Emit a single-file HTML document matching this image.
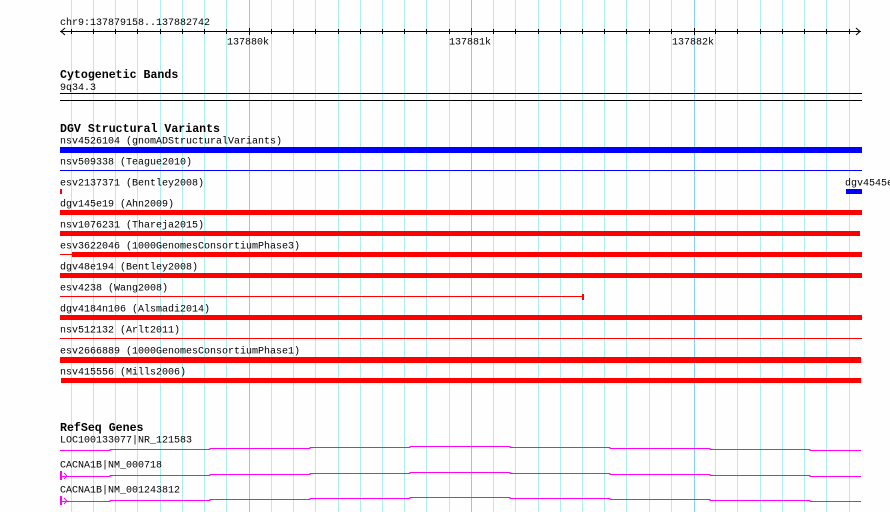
<!DOCTYPE html>
<html><head><meta charset="utf-8"><style>
html,body{margin:0;padding:0;background:#fdfefd;}
svg{display:block;}
text{font-family:"Liberation Mono",monospace;font-size:10px;fill:#000;}
.b{font-weight:bold;font-size:11.6px;}
</style></head><body>
<svg width="890" height="512" viewBox="0 0 890 512" xmlns="http://www.w3.org/2000/svg">
<rect width="890" height="512" fill="#fdfefd"/>
<g stroke="#aeeeee" stroke-width="1">
<line x1="71.5" y1="0" x2="71.5" y2="512"/><line x1="93.5" y1="0" x2="93.5" y2="512"/><line x1="115.5" y1="0" x2="115.5" y2="512"/><line x1="137.5" y1="0" x2="137.5" y2="512"/><line x1="160.5" y1="0" x2="160.5" y2="512"/><line x1="182.5" y1="0" x2="182.5" y2="512"/><line x1="204.5" y1="0" x2="204.5" y2="512"/><line x1="226.5" y1="0" x2="226.5" y2="512"/>
<line x1="271.5" y1="0" x2="271.5" y2="512"/><line x1="293.5" y1="0" x2="293.5" y2="512"/><line x1="315.5" y1="0" x2="315.5" y2="512"/><line x1="338.5" y1="0" x2="338.5" y2="512"/><line x1="360.5" y1="0" x2="360.5" y2="512"/><line x1="382.5" y1="0" x2="382.5" y2="512"/><line x1="404.5" y1="0" x2="404.5" y2="512"/><line x1="426.5" y1="0" x2="426.5" y2="512"/><line x1="449.5" y1="0" x2="449.5" y2="512"/>
<line x1="493.5" y1="0" x2="493.5" y2="512"/><line x1="515.5" y1="0" x2="515.5" y2="512"/><line x1="538.5" y1="0" x2="538.5" y2="512"/><line x1="560.5" y1="0" x2="560.5" y2="512"/><line x1="582.5" y1="0" x2="582.5" y2="512"/><line x1="604.5" y1="0" x2="604.5" y2="512"/><line x1="626.5" y1="0" x2="626.5" y2="512"/><line x1="649.5" y1="0" x2="649.5" y2="512"/><line x1="671.5" y1="0" x2="671.5" y2="512"/>
<line x1="715.5" y1="0" x2="715.5" y2="512"/><line x1="737.5" y1="0" x2="737.5" y2="512"/><line x1="760.5" y1="0" x2="760.5" y2="512"/><line x1="782.5" y1="0" x2="782.5" y2="512"/><line x1="804.5" y1="0" x2="804.5" y2="512"/><line x1="826.5" y1="0" x2="826.5" y2="512"/><line x1="849.5" y1="0" x2="849.5" y2="512"/>
</g>
<g stroke="#88ccee" stroke-width="1">
<line x1="249.5" y1="0" x2="249.5" y2="512"/><line x1="471.5" y1="0" x2="471.5" y2="512"/><line x1="694.5" y1="0" x2="694.5" y2="512"/>
</g>
<!-- ruler -->
<text x="60" y="25">chr9:137879158..137882742</text>
<line x1="60" y1="31.5" x2="861" y2="31.5" stroke="#000"/>
<polyline points="65,28 61,31.5 65,35" fill="none" stroke="#000"/>
<polyline points="856,28 860,31.5 856,35" fill="none" stroke="#000"/>
<g stroke="#000">
<line x1="71.5" y1="29" x2="71.5" y2="34"/><line x1="93.5" y1="29" x2="93.5" y2="34"/><line x1="115.5" y1="29" x2="115.5" y2="34"/><line x1="137.5" y1="29" x2="137.5" y2="34"/><line x1="160.5" y1="29" x2="160.5" y2="34"/><line x1="182.5" y1="29" x2="182.5" y2="34"/><line x1="204.5" y1="29" x2="204.5" y2="34"/><line x1="226.5" y1="29" x2="226.5" y2="34"/><line x1="249.5" y1="28" x2="249.5" y2="35"/>
<line x1="271.5" y1="29" x2="271.5" y2="34"/><line x1="293.5" y1="29" x2="293.5" y2="34"/><line x1="315.5" y1="29" x2="315.5" y2="34"/><line x1="338.5" y1="29" x2="338.5" y2="34"/><line x1="360.5" y1="29" x2="360.5" y2="34"/><line x1="382.5" y1="29" x2="382.5" y2="34"/><line x1="404.5" y1="29" x2="404.5" y2="34"/><line x1="426.5" y1="29" x2="426.5" y2="34"/><line x1="449.5" y1="29" x2="449.5" y2="34"/><line x1="471.5" y1="28" x2="471.5" y2="35"/>
<line x1="493.5" y1="29" x2="493.5" y2="34"/><line x1="515.5" y1="29" x2="515.5" y2="34"/><line x1="538.5" y1="29" x2="538.5" y2="34"/><line x1="560.5" y1="29" x2="560.5" y2="34"/><line x1="582.5" y1="29" x2="582.5" y2="34"/><line x1="604.5" y1="29" x2="604.5" y2="34"/><line x1="626.5" y1="29" x2="626.5" y2="34"/><line x1="649.5" y1="29" x2="649.5" y2="34"/><line x1="671.5" y1="29" x2="671.5" y2="34"/><line x1="694.5" y1="28" x2="694.5" y2="35"/>
<line x1="715.5" y1="29" x2="715.5" y2="34"/><line x1="737.5" y1="29" x2="737.5" y2="34"/><line x1="760.5" y1="29" x2="760.5" y2="34"/><line x1="782.5" y1="29" x2="782.5" y2="34"/><line x1="804.5" y1="29" x2="804.5" y2="34"/><line x1="826.5" y1="29" x2="826.5" y2="34"/><line x1="849.5" y1="29" x2="849.5" y2="34"/>
</g>
<text x="227" y="44.5">137880k</text>
<text x="449" y="44.5">137881k</text>
<text x="672" y="44.5">137882k</text>
<!-- cytobands -->
<text class="b" x="60" y="78">Cytogenetic Bands</text>
<text x="60" y="90">9q34.3</text>
<line x1="60" y1="93.5" x2="862" y2="93.5" stroke="#000"/>
<line x1="60" y1="100.5" x2="862" y2="100.5" stroke="#000"/>
<!-- DGV -->
<text class="b" x="60" y="132">DGV Structural Variants</text>
<text x="60" y="143.5">nsv4526104 (gnomADStructuralVariants)</text>
<rect x="60" y="147" width="802" height="6" fill="#0000ff"/>
<text x="60" y="164.5">nsv509338 (Teague2010)</text>
<rect x="60" y="170" width="802" height="1" fill="#0000ff"/>
<text x="60" y="185.5">esv2137371 (Bentley2008)</text>
<rect x="60" y="189" width="2" height="5" fill="#ff0000"/>
<text x="845" y="185.5">dgv4545e</text>
<rect x="846" y="189" width="16" height="5" fill="#0000ff"/>
<text x="60" y="206.5">dgv145e19 (Ahn2009)</text>
<rect x="60" y="210" width="802" height="5" fill="#ff0000"/>
<text x="60" y="227.5">nsv1076231 (Thareja2015)</text>
<rect x="60" y="231" width="800" height="5" fill="#ff0000"/>
<text x="60" y="248.5">esv3622046 (1000GenomesConsortiumPhase3)</text>
<rect x="60" y="254" width="12" height="1" fill="#ff0000"/>
<rect x="72" y="252" width="790" height="5" fill="#ff0000"/>
<text x="60" y="269.5">dgv48e194 (Bentley2008)</text>
<rect x="60" y="273" width="802" height="5" fill="#ff0000"/>
<text x="60" y="290.5">esv4238 (Wang2008)</text>
<rect x="60" y="296" width="523" height="1" fill="#ff0000"/>
<rect x="582" y="294" width="2" height="6" fill="#ff0000"/>
<text x="60" y="311.5">dgv4184n106 (Alsmadi2014)</text>
<rect x="60" y="315" width="802" height="5" fill="#ff0000"/>
<text x="60" y="332.5">nsv512132 (Arlt2011)</text>
<rect x="60" y="338" width="802" height="1" fill="#ff0000"/>
<text x="60" y="353.5">esv2666889 (1000GenomesConsortiumPhase1)</text>
<rect x="60" y="357" width="801" height="6" fill="#ff0000"/>
<text x="60" y="374.5">nsv415556 (Mills2006)</text>
<rect x="61" y="378" width="800" height="5" fill="#ff0000"/>
<!-- RefSeq -->
<text class="b" x="60" y="431">RefSeq Genes</text>
<text x="60" y="442.5">LOC100133077|NR_121583</text>
<g stroke="#ff00ff" stroke-width="1" fill="none">
<polyline points="60,450.5 110,450.5 110,449.5 210,449.5 210,448.5 310,448.5 310,447.5 410,447.5 410,446.5 510,446.5 510,447.5 610,447.5 610,448.5 710,448.5 710,449.5 810,449.5 810,450.5 861,450.5"/>
<polyline points="60,476.5 110,476.5 110,475.5 210,475.5 210,474.5 310,474.5 310,473.5 410,473.5 410,472.5 510,472.5 510,473.5 610,473.5 610,474.5 710,474.5 710,475.5 810,475.5 810,476.5 861,476.5"/>
<polyline points="60,501.5 110,501.5 110,500.5 210,500.5 210,499.5 310,499.5 310,498.5 410,498.5 410,497.5 510,497.5 510,498.5 610,498.5 610,499.5 710,499.5 710,500.5 810,500.5 810,501.5 861,501.5"/>
<polyline points="64,473 67,476 64,479"/>
<polyline points="64,498 67,501 64,504"/>
</g>
<text x="60" y="467.5">CACNA1B|NM_000718</text>
<rect x="60" y="471" width="2" height="9" fill="#ff00ff"/>
<text x="60" y="492.5">CACNA1B|NM_001243812</text>
<rect x="60" y="496" width="2" height="9" fill="#ff00ff"/>
</svg>
</body></html>
